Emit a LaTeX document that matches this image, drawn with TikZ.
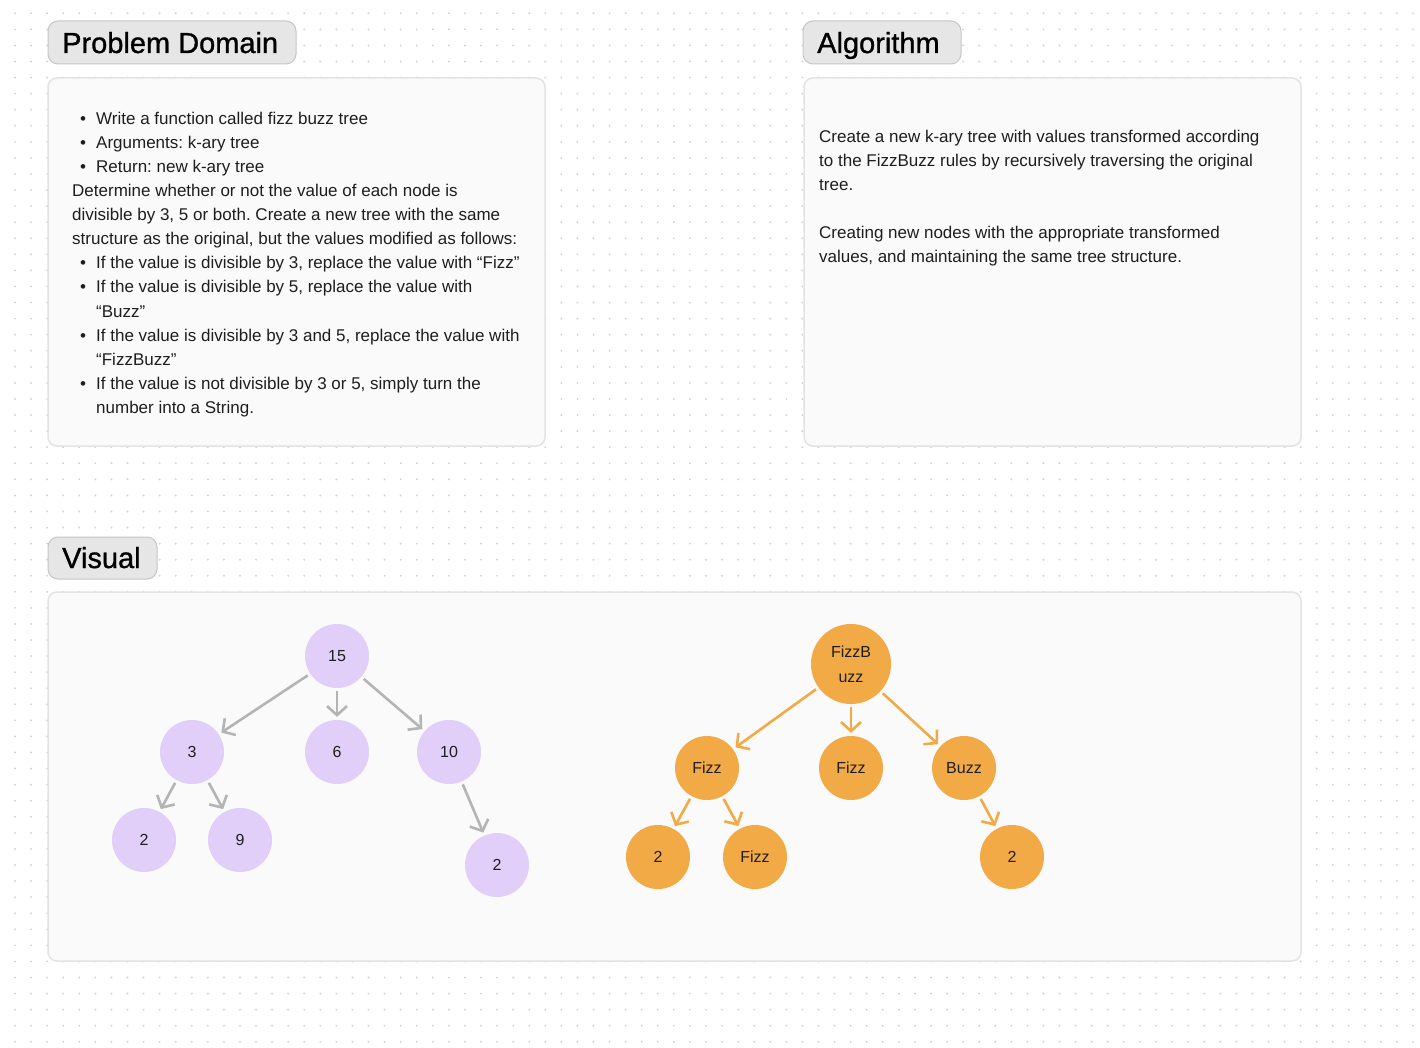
\documentclass[tikz,border=0pt]{standalone}
\usepackage{fontspec}
\setmainfont{Liberation Sans}
\newfontface\titelschrift{Liberation Sans}[FakeBold=1]
\usetikzlibrary{arrows.meta}
\frenchspacing

\definecolor{punkt}{HTML}{D4D4D4}
\definecolor{reiterfarbe}{HTML}{E6E6E6}
\definecolor{reiterrand}{HTML}{C6C6C6}
\definecolor{kastenfarbe}{HTML}{FAFAFA}
\definecolor{kastenrand}{HTML}{E3E3E3}
\definecolor{lila}{HTML}{E1CFFA}
\definecolor{orangeton}{HTML}{F2AA46}
\definecolor{grauton}{HTML}{B4B4B4}
\definecolor{schrift}{HTML}{1E1E1E}

\tikzset{
  reiter/.style={fill=reiterfarbe, draw=reiterrand, line width=1pt, rounded corners=10pt},
  kasten/.style={fill=kastenfarbe, draw=kastenrand, line width=1.5pt, rounded corners=9pt},
  titel/.style={anchor=base west, inner sep=0pt, font=\titelschrift\fontsize{29}{29}\selectfont},
  zeile/.style={anchor=base west, inner sep=0pt, text=schrift, font=\fontsize{17}{24}\selectfont},
  punktchen/.style={anchor=base, inner sep=0pt, text=schrift, font=\fontsize{17}{24}\selectfont},
  knotenlila/.style={circle, fill=lila, minimum size=64pt, inner sep=0pt, text=schrift, font=\fontsize{16}{16}\selectfont},
  knotenorange/.style={circle, fill=orangeton, minimum size=64pt, inner sep=0pt, text=schrift, font=\fontsize{16}{25}\selectfont},
  pfeilgrau/.style={draw=grauton, line width=2.6pt, -{Straight Barb[length=9pt,width=20pt]}, shorten <=3pt, shorten >=3pt},
  pfeilorange/.style={pfeilgrau, draw=orangeton}
}

\begin{document}
\begin{tikzpicture}[x=1pt,y=-1pt]
    \useasboundingbox (0,0) rectangle (1420,1048);
    \fill[white] (0,0) rectangle (1420,1048);

    % Punktraster
    \foreach \i in {0,...,87}
        \foreach \j in {0,...,64}
            \fill[punkt] ({15+16.07*\i},{13.3+16.07*\j}) circle (1.1);

    % Reiter
    \filldraw[reiter] (48,21) rectangle (296,64);
    \filldraw[reiter] (803,21) rectangle (961,64);
    \filldraw[reiter] (48,537) rectangle (157,579);
    \node[titel] (tproblem) at (62,53) {Problem Domain};
    \node[titel] (talgo) at (817,53) {Algorithm};
    \node[titel] (tvisual) at (62,568) {Visual};

    % Kaesten
    \filldraw[kasten] (48,78) rectangle (545,446);
    \filldraw[kasten] (804,78) rectangle (1301,446);
    \filldraw[kasten] (48,592) rectangle (1301,961);

    % Problem Domain Text
    \node[punktchen] (b1) at (83,125) {\textbullet};
    \node[zeile] (z1) at (96,125) {Write a function called fizz buzz tree};
    \node[punktchen] (b2) at (83,149) {\textbullet};
    \node[zeile] (z2) at (96,149) {Arguments: k-ary tree};
    \node[punktchen] (b3) at (83,173) {\textbullet};
    \node[zeile] (z3) at (96,173) {Return: new k-ary tree};
    \node[zeile] (z4) at (72,197) {Determine whether or not the value of each node is};
    \node[zeile] (z5) at (72,221) {divisible by 3, 5 or both. Create a new tree with the same};
    \node[zeile] (z6) at (72,245) {structure as the original, but the values modified as follows:};
    \node[punktchen] (b4) at (83,269) {\textbullet};
    \node[zeile] (z7) at (96,269) {If the value is divisible by 3, replace the value with ``Fizz''};
    \node[punktchen] (b5) at (83,293) {\textbullet};
    \node[zeile] (z8) at (96,293) {If the value is divisible by 5, replace the value with};
    \node[zeile] (z9) at (96,317) {``Buzz''};
    \node[punktchen] (b6) at (83,341) {\textbullet};
    \node[zeile] (z10) at (96,341) {If the value is divisible by 3 and 5, replace the value with};
    \node[zeile] (z11) at (96,365) {``FizzBuzz''};
    \node[punktchen] (b7) at (83,389) {\textbullet};
    \node[zeile] (z12) at (96,389) {If the value is not divisible by 3 or 5, simply turn the};
    \node[zeile] (z13) at (96,413) {number into a String.};

    % Algorithm Text
    \node[zeile] (a1) at (819,143) {Create a new k-ary tree with values transformed according};
    \node[zeile] (a2) at (819,167) {to the FizzBuzz rules by recursively traversing the original};
    \node[zeile] (a3) at (819,191) {tree.};
    \node[zeile] (a4) at (819,239) {Creating new nodes with the appropriate transformed};
    \node[zeile] (a5) at (819,263) {values, and maintaining the same tree structure.};

    % Baum links (Original)
    \node[knotenlila] (l15) at (337,656) {15};
    \node[knotenlila] (l3) at (192,752) {3};
    \node[knotenlila] (l6) at (337,752) {6};
    \node[knotenlila] (l10) at (449,752) {10};
    \node[knotenlila] (l2a) at (144,840) {2};
    \node[knotenlila] (l9) at (240,840) {9};
    \node[knotenlila] (l2b) at (497,865) {2};
    \draw[pfeilgrau] (l15) -- (l3);
    \draw[pfeilgrau] (l15) -- (l6);
    \draw[pfeilgrau] (l15) -- (l10);
    \draw[pfeilgrau] (l3) -- (l2a);
    \draw[pfeilgrau] (l3) -- (l9);
    \draw[pfeilgrau] (l10) -- (l2b);

    % Baum rechts (FizzBuzz)
    \node[knotenorange, minimum size=80pt, align=center] (rfb) at (851,664) {FizzB\\uzz};
    \node[knotenorange] (rf1) at (707,768) {Fizz};
    \node[knotenorange] (rf2) at (851,768) {Fizz};
    \node[knotenorange] (rbz) at (964,768) {Buzz};
    \node[knotenorange] (r2a) at (658,857) {2};
    \node[knotenorange] (rf3) at (755,857) {Fizz};
    \node[knotenorange] (r2b) at (1012,857) {2};
    \draw[pfeilorange] (rfb) -- (rf1);
    \draw[pfeilorange] (rfb) -- (rf2);
    \draw[pfeilorange] (rfb) -- (rbz);
    \draw[pfeilorange] (rf1) -- (r2a);
    \draw[pfeilorange] (rf1) -- (rf3);
    \draw[pfeilorange] (rbz) -- (r2b);
\end{tikzpicture}
\end{document}
